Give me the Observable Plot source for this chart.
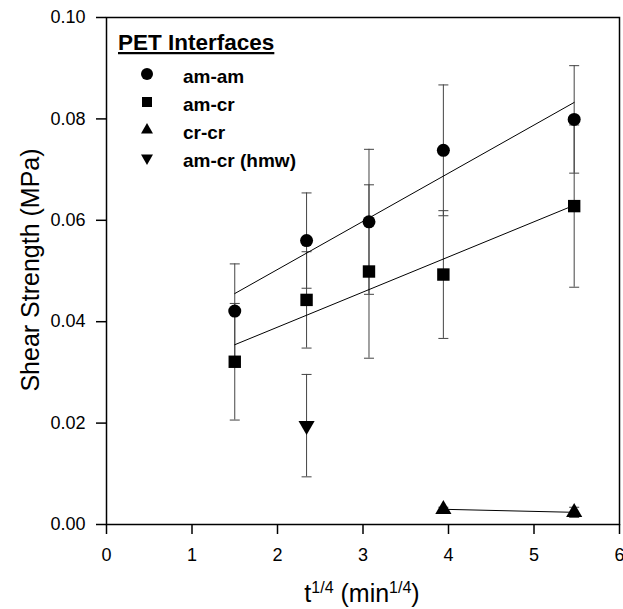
<!DOCTYPE html>
<html>
<head>
<meta charset="utf-8">
<script src="https://cdn.jsdelivr.net/npm/d3@7"></script>
<script src="https://cdn.jsdelivr.net/npm/@observablehq/plot@0.6"></script>
<style>
  html, body { margin: 0; padding: 0; background: #fff; }
  #chart svg { display: block; }
</style>
</head>
<body>
<div id="chart"></div>
<script>
// ---- data ----
const times = [1.50, 2.34, 3.07, 3.94, 5.47];

const amamVals = [0.0421, 0.0560, 0.0597, 0.0738, 0.0799];
const amamErr  = [0.0093, 0.0094, 0.0143, 0.0129, 0.0106];

const amcrVals = [0.0321, 0.0443, 0.0499, 0.0493, 0.0628];
const amcrErr  = [0.0115, 0.0095, 0.0171, 0.0126, 0.0160];

const crcrTimes = [3.94, 5.47];
const crcrVals  = [0.0030, 0.0024];
const crcrErr   = [0.0004, 0.0010];

const hmwTimes = [2.34];
const hmwVals  = [0.0195];
const hmwErr   = [0.0101];

const xTicks = [0, 1, 2, 3, 4, 5, 6];
const yTicks = [0, 0.02, 0.04, 0.06, 0.08, 0.10];

const legendTitle = "PET Interfaces";
const seriesNames = ["am-am", "am-cr", "cr-cr", "am-cr (hmw)"];

// ---- build tables ----
function rows(name, xs, ys, es) {
  return xs.map((x, i) => ({series: name, x, y: ys[i], e: es[i]}));
}
const amam = rows("am-am", times, amamVals, amamErr);
const amcr = rows("am-cr", times, amcrVals, amcrErr);
const crcr = rows("cr-cr", crcrTimes, crcrVals, crcrErr);
const hmw  = rows("am-cr (hmw)", hmwTimes, hmwVals, hmwErr);
const all = [...amam, ...amcr, ...crcr, ...hmw];
const caps = all.flatMap(d => [{x: d.x, y: d.y - d.e}, {x: d.x, y: d.y + d.e}]);

const capSymbol = {
  draw(context, size) {
    const w = Math.sqrt(size / Math.PI);
    context.moveTo(-w, 0);
    context.lineTo(w, 0);
  }
};

const FONT = "'Liberation Sans', Arial, Helvetica, sans-serif";
const errColor = "#444";

const svg = Plot.plot({
  width: 623,
  height: 609,
  marginLeft: 106,
  marginRight: 4,
  marginTop: 17,
  marginBottom: 85,
  style: {fontFamily: FONT, fontSize: "18px", color: "#000", background: "#fff", overflow: "visible"},
  x: {domain: [0, 6]},
  y: {domain: [0, 0.1]},
  marks: [
    Plot.axisX({ticks: xTicks, tickSize: 10, tickPadding: 14, label: null, fontSize: 18, strokeWidth: 1.5, tickFormat: d3.format("d")}),
    Plot.axisY({ticks: yTicks, tickSize: 10, tickPadding: 11, label: null, fontSize: 18, strokeWidth: 1.5, tickFormat: d3.format(".2f")}),
    Plot.ruleX(all, {x: "x", y1: d => d.y - d.e, y2: d => d.y + d.e, stroke: errColor, strokeWidth: 1}),
    Plot.dot(caps, {x: "x", y: "y", symbol: capSymbol, r: 5, stroke: errColor, strokeWidth: 1, fill: "none"}),
    Plot.linearRegressionY(amam, {x: "x", y: "y", ci: 0, stroke: "#000", strokeWidth: 1}),
    Plot.linearRegressionY(amcr, {x: "x", y: "y", ci: 0, stroke: "#000", strokeWidth: 1}),
    Plot.line(crcr, {x: "x", y: "y", stroke: "#000", strokeWidth: 1}),
    Plot.dot(amam, {x: "x", y: "y", symbol: "circle", r: 6.5, fill: "#000", stroke: "none"}),
    Plot.dot(amcr, {x: "x", y: "y", symbol: "square", r: 7, fill: "#000", stroke: "none"}),
    Plot.dot(crcr, {x: "x", y: "y", symbol: "triangle", r: 6, fill: "#000", stroke: "none"}),
    Plot.dot(hmw, {x: "x", y: "y", symbol: "triangle", rotate: 180, r: 6, fill: "#000", stroke: "none"}),
    Plot.frame({stroke: "#000", strokeWidth: 1.5})
  ]
});

const s = d3.select(svg);

// axis titles
s.append("text")
  .attr("transform", "translate(30,270) rotate(-90)")
  .attr("text-anchor", "middle")
  .attr("dominant-baseline", "central")
  .style("font-family", FONT)
  .style("font-size", "25px")
  .attr("fill", "#000")
  .text("Shear Strength (MPa)");

const xt = s.append("text")
  .attr("x", 362)
  .attr("y", 602)
  .attr("text-anchor", "middle")
  .style("font-family", FONT)
  .style("font-size", "25px")
  .attr("fill", "#000");
xt.append("tspan").text("t");
xt.append("tspan").attr("dy", -9).style("font-size", "16px").text("1/4");
xt.append("tspan").attr("dy", 9).text(" (min");
xt.append("tspan").attr("dy", -9).style("font-size", "16px").text("1/4");
xt.append("tspan").attr("dy", 9).text(")");

// legend
const lg = s.append("g").style("font-family", FONT).attr("fill", "#000").attr("text-anchor", "start");
lg.append("text")
  .attr("x", 118).attr("y", 50)
  .attr("text-anchor", "start")
  .style("font-size", "22.5px").style("font-weight", "bold")
  .style("text-decoration", "underline")
  .text(legendTitle);
const legendSymbols = [
  {type: d3.symbolCircle, size: Math.PI * 36, rot: 0},
  {type: d3.symbolSquare, size: 100, rot: 0},
  {type: d3.symbolTriangle, size: 62, rot: 0},
  {type: d3.symbolTriangle, size: 62, rot: 180}
];
seriesNames.forEach((name, i) => {
  const cy = 74 + i * 28;
  lg.append("path")
    .attr("d", d3.symbol().type(legendSymbols[i].type).size(legendSymbols[i].size)())
    .attr("transform", `translate(147,${cy}) rotate(${legendSymbols[i].rot})`)
    .attr("fill", "#000");
  lg.append("text")
    .attr("x", 183).attr("y", cy + 9)
    .attr("text-anchor", "start")
    .style("font-size", "19px").style("font-weight", "bold")
    .text(name);
});

document.getElementById("chart").appendChild(svg);
</script>
</body>
</html>
